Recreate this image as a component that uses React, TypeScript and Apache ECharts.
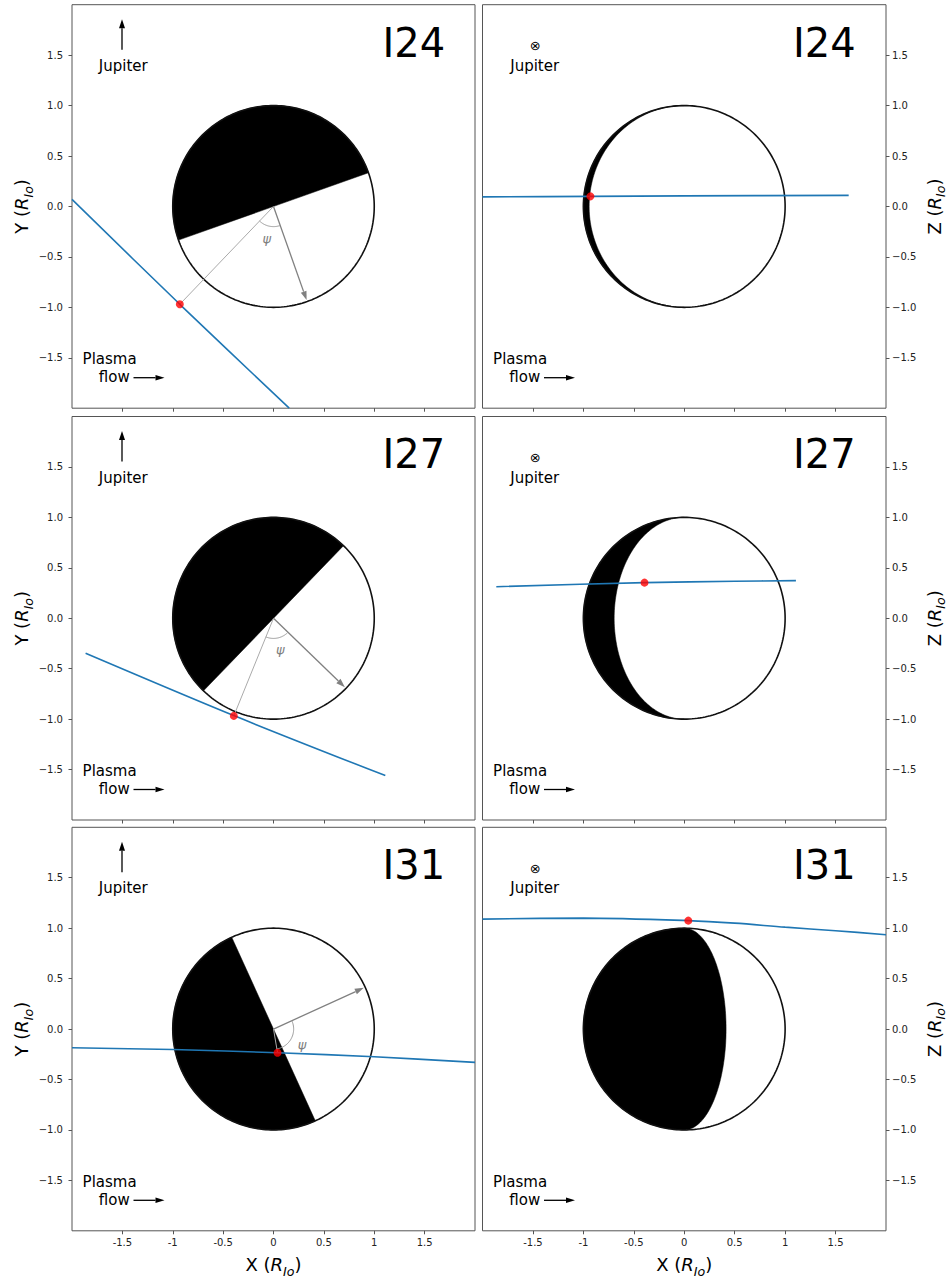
import React, { useEffect, useRef } from 'react';
import * as echarts from 'echarts';

// Galileo flybys of Io
const flybys = ['I24', 'I27', 'I31'];
// direction of the sunward arrow in the X-Y plane, degrees from +X
const sunAngleDeg = [-70.5, -44, 24.5];
// closest approach positions (R_Io)
const closestXY = [[-0.93, -0.97], [-0.394, -0.968], [0.04, -0.235]];
const closestXZ = [[-0.93, 0.1], [-0.394, 0.353], [0.04, 1.075]];
// spacecraft trajectories projected on X-Y and X-Z (R_Io)
const trackXY = [
  [[-2.0, 0.07], [-0.93, -0.97], [0.156, -2.0]],
  [[-1.865, -0.347], [-0.394, -0.965], [1.11, -1.56]],
  [[-2.0, -0.186], [-1.0, -0.203], [0.04, -0.235], [1.0, -0.275], [2.0, -0.33]],
];
const trackXZ = [
  [[-2.0, 0.095], [-0.93, 0.1], [0.0, 0.105], [1.63, 0.11]],
  [[-1.863, 0.313], [-0.394, 0.353], [0.5, 0.367], [1.107, 0.373]],
  [[-2.0, 1.09], [-1.0, 1.1], [0.04, 1.075], [0.5, 1.05], [1.0, 1.01], [1.5, 0.975], [2.0, 0.935]],
];
const tickValues = [-1.5, -1, -0.5, 0, 0.5, 1, 1.5];
const xTickLabels = ['-1.5', '-1', '-0.5', '0', '0.5', '1', '1.5'];
const yTickLabels = ['\u22121.5', '\u22121.0', '\u22120.5', '0.0', '0.5', '1.0', '1.5'];

const COL_LEFT = [72, 482.5];
const COL_WIDTH = [403, 404];
const ROW_TOP = [4.7, 416.5, 827.3];
const ROW_HEIGHT = 403.5;

const FONT = 'DejaVu Sans';
const FRAME = '#555';
const GREY = '#808080';

const tickLabel = (labels: string[]) => (v: number) => {
  const k = tickValues.findIndex((t) => Math.abs(t - v) < 1e-9);
  return k >= 0 ? labels[k] : '';
};

const axisName = (s: string) => `{n|${s} (}{i|R}{s|Io}{n|)}`;
const nameStyle = {
  fontFamily: FONT,
  fontSize: 18,
  color: '#000',
  rich: {
    n: { fontFamily: FONT, fontSize: 18, lineHeight: 26, color: '#000' },
    i: { fontFamily: FONT, fontSize: 18, lineHeight: 26, fontStyle: 'italic', color: '#000' },
    s: { fontFamily: FONT, fontSize: 12.6, lineHeight: 14, fontStyle: 'italic', verticalAlign: 'bottom', color: '#000' },
  },
};

// Io disc with its night side; view 'xy' looks down on the orbit plane,
// view 'xz' looks along +Y (toward Jupiter)
function renderBody(view: 'xy' | 'xz') {
  return (_params: any, api: any) => {
    const th = (api.value(2) * Math.PI) / 180;
    const N = 120;
    const shade: number[][] = [];
    if (view === 'xy') {
      for (let i = 0; i <= N; i++) {
        const a = th + Math.PI / 2 + (Math.PI * i) / N;
        shade.push(api.coord([Math.cos(a), Math.sin(a)]));
      }
    } else {
      const k = Math.sin(th) * Math.sign(Math.cos(th));
      for (let i = 0; i <= N; i++) {
        const a = Math.PI / 2 + (Math.PI * i) / N;
        shade.push(api.coord([Math.cos(a), Math.sin(a)]));
      }
      for (let i = 0; i <= N; i++) {
        const a = -Math.PI / 2 + (Math.PI * i) / N;
        shade.push(api.coord([k * Math.cos(a), Math.sin(a)]));
      }
    }
    const ring: number[][] = [];
    for (let i = 0; i <= 2 * N; i++) {
      const a = (2 * Math.PI * i) / (2 * N);
      ring.push(api.coord([Math.cos(a), Math.sin(a)]));
    }
    return {
      type: 'group',
      children: [
        { type: 'polygon', shape: { points: shade }, style: { fill: '#000', stroke: '#000', lineWidth: 0.5 } },
        { type: 'polyline', shape: { points: ring }, style: { fill: null, stroke: '#111', lineWidth: 1.6 } },
      ],
    };
  };
}

// sunward arrow, radius to closest approach and the angle psi between them
function renderGeometry(_params: any, api: any) {
  const cx = api.value(0);
  const cy = api.value(1);
  const ang = (api.value(2) * Math.PI) / 180;
  const o = api.coord([0, 0]);
  const p = api.coord([cx, cy]);
  const tip = api.coord([0.985 * Math.cos(ang), 0.985 * Math.sin(ang)]);
  const dx = tip[0] - o[0];
  const dy = tip[1] - o[1];
  const len = Math.hypot(dx, dy);
  const ux = dx / len;
  const uy = dy / len;
  const hl = 9;
  const hw = 3;
  const base = [tip[0] - ux * hl, tip[1] - uy * hl];
  const head = [tip, [base[0] - uy * hw, base[1] + ux * hw], [base[0] + uy * hw, base[1] - ux * hw]];
  const a1 = Math.atan2(cy, cx);
  let diff = ang - a1;
  while (diff > Math.PI) diff -= 2 * Math.PI;
  while (diff < -Math.PI) diff += 2 * Math.PI;
  const arc: number[][] = [];
  for (let i = 0; i <= 40; i++) {
    const a = a1 + (diff * i) / 40;
    arc.push(api.coord([0.2 * Math.cos(a), 0.2 * Math.sin(a)]));
  }
  const mid = a1 + diff / 2;
  const lab = api.coord([0.32 * Math.cos(mid), 0.32 * Math.sin(mid)]);
  return {
    type: 'group',
    children: [
      { type: 'line', shape: { x1: o[0], y1: o[1], x2: p[0], y2: p[1] }, style: { stroke: '#aaa', lineWidth: 1 } },
      { type: 'line', shape: { x1: o[0], y1: o[1], x2: base[0], y2: base[1] }, style: { stroke: GREY, lineWidth: 1.3 } },
      { type: 'polygon', shape: { points: head }, style: { fill: GREY } },
      { type: 'polyline', shape: { points: arc }, style: { fill: null, stroke: '#999', lineWidth: 1 } },
      {
        type: 'text',
        x: lab[0],
        y: lab[1],
        style: { text: '\u03c8', fontFamily: FONT, fontSize: 13, fontStyle: 'italic', fill: GREY, align: 'center', verticalAlign: 'middle' },
      },
    ],
  };
}

function arrow(x1: number, y1: number, x2: number, y2: number, hl = 9, hw = 3) {
  const len = Math.hypot(x2 - x1, y2 - y1);
  const ux = (x2 - x1) / len;
  const uy = (y2 - y1) / len;
  const bx = x2 - ux * hl;
  const by = y2 - uy * hl;
  return {
    type: 'group',
    children: [
      { type: 'line', shape: { x1, y1, x2: bx, y2: by }, style: { stroke: '#000', lineWidth: 1.3 } },
      {
        type: 'polygon',
        shape: { points: [[x2, y2], [bx - uy * hw, by + ux * hw], [bx + uy * hw, by - ux * hw]] },
        style: { fill: '#000' },
      },
    ],
  };
}

const text = (x: number, y: number, s: string, size: number, align = 'left') => ({
  type: 'text',
  x,
  y,
  style: { text: s, fontFamily: FONT, fontSize: size, fill: '#000', align, verticalAlign: 'middle' },
});

function buildOption() {
  const grid: any[] = [];
  const xAxis: any[] = [];
  const yAxis: any[] = [];
  const series: any[] = [];
  const elements: any[] = [];

  for (let r = 0; r < 3; r++) {
    for (let c = 0; c < 2; c++) {
      const i = r * 2 + c;
      const L = COL_LEFT[c];
      const T = ROW_TOP[r];
      grid.push({
        left: L,
        top: T,
        width: COL_WIDTH[c],
        height: ROW_HEIGHT,
        show: true,
        borderColor: FRAME,
        borderWidth: 1,
        backgroundColor: '#fff',
      });
      xAxis.push({
        gridIndex: i,
        type: 'value',
        min: -2,
        max: 2,
        position: 'bottom',
        axisLine: { show: false, onZero: false },
        splitLine: { show: false },
        axisTick: { show: true, inside: false, length: 3.5, lineStyle: { color: FRAME }, customValues: tickValues },
        axisLabel: {
          show: r === 2,
          customValues: tickValues,
          formatter: tickLabel(xTickLabels),
          fontFamily: FONT,
          fontSize: 10,
          color: '#222',
          margin: 7,
        },
        name: r === 2 ? axisName('X') : '',
        nameLocation: 'middle',
        nameGap: 21,
        nameTextStyle: nameStyle,
      });
      yAxis.push({
        gridIndex: i,
        type: 'value',
        min: -2,
        max: 2,
        position: c === 0 ? 'left' : 'right',
        axisLine: { show: false, onZero: false },
        splitLine: { show: false },
        axisTick: { show: true, inside: false, length: 3.5, lineStyle: { color: FRAME }, customValues: tickValues },
        axisLabel: {
          customValues: tickValues,
          formatter: tickLabel(yTickLabels),
          fontFamily: FONT,
          fontSize: 10,
          color: '#222',
          margin: c === 0 ? 9 : 6,
        },
        name: axisName(c === 0 ? 'Y' : 'Z'),
        nameLocation: 'middle',
        nameRotate: 90,
        nameGap: c === 0 ? 36 : 35,
        nameTextStyle: nameStyle,
      });

      const view = c === 0 ? 'xy' : 'xz';
      const ca = c === 0 ? closestXY[r] : closestXZ[r];
      series.push({
        type: 'custom',
        name: `Io ${flybys[r]}`,
        xAxisIndex: i,
        yAxisIndex: i,
        data: [[0, 0, sunAngleDeg[r]]],
        renderItem: renderBody(view),
        clip: false,
        silent: true,
        z: 1,
      });
      if (c === 0) {
        series.push({
          type: 'custom',
          name: `geometry ${flybys[r]}`,
          xAxisIndex: i,
          yAxisIndex: i,
          data: [[ca[0], ca[1], sunAngleDeg[r]]],
          renderItem: renderGeometry,
          clip: false,
          silent: true,
          z: 2,
        });
      }
      series.push({
        type: 'line',
        name: `trajectory ${flybys[r]}`,
        xAxisIndex: i,
        yAxisIndex: i,
        data: c === 0 ? trackXY[r] : trackXZ[r],
        showSymbol: false,
        symbol: 'none',
        smooth: 0.3,
        clip: true,
        lineStyle: { color: '#1f77b4', width: 1.6 },
        z: 3,
      });
      series.push({
        type: 'scatter',
        name: `closest approach ${flybys[r]}`,
        xAxisIndex: i,
        yAxisIndex: i,
        data: [ca],
        symbol: 'circle',
        symbolSize: 8,
        itemStyle: { color: '#ff0000' },
        z: 4,
      });

      // annotations
      if (c === 0) {
        elements.push(arrow(L + 50, T + 45, L + 50, T + 14.5, 9, 3));
        elements.push(text(L + 51.3, T + 61, 'Jupiter', 15, 'center'));
      } else {
        elements.push(text(L + 52.8, T + 41, '\u2297', 13, 'center'));
        elements.push(text(L + 52.2, T + 61, 'Jupiter', 15, 'center'));
      }
      elements.push(text(L + 10.6, T + 354.3, 'Plasma', 15));
      elements.push(text(L + 26.8, T + 372.3, 'flow', 15));
      elements.push(arrow(L + 61.5, T + 373, L + 92.5, T + 373, 9, 2.8));
      elements.push(text(L + 310.5, T + 37.8, flybys[r], 40));
    }
  }

  return {
    animation: false,
    backgroundColor: '#fff',
    grid,
    xAxis,
    yAxis,
    series,
    graphic: { elements },
  };
}

export default function App() {
  const ref = useRef<HTMLDivElement>(null);
  useEffect(() => {
    const chart = echarts.init(ref.current!, null, { renderer: 'svg' });
    chart.setOption(buildOption() as any);
    return () => chart.dispose();
  }, []);
  return (
    <div
      ref={ref}
      style={{ position: 'fixed', left: 0, top: 0, width: 948, height: 1281, background: '#fff' }}
    />
  );
}
